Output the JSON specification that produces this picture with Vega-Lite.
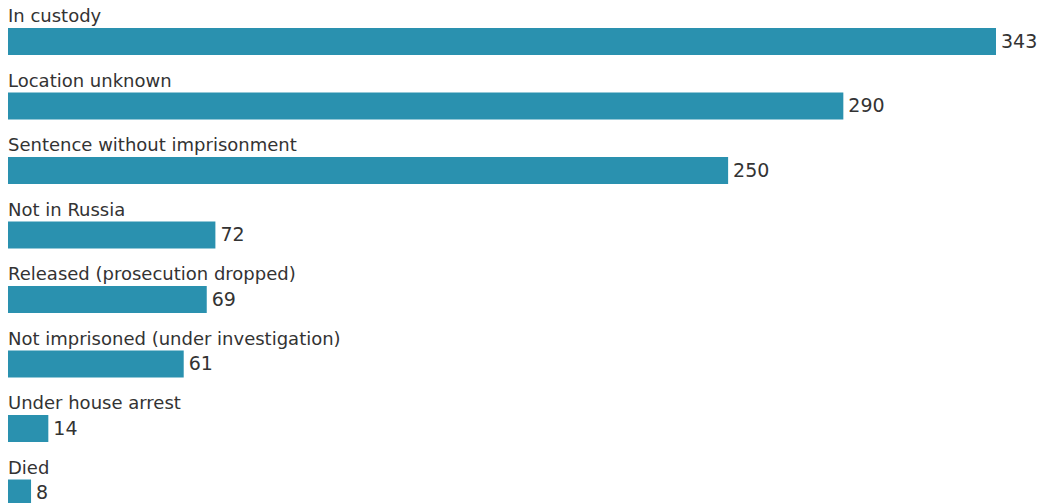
{
  "$schema": "https://vega.github.io/schema/vega-lite/v6.json",
  "width": 1038,
  "height": 503,
  "autosize": {"type": "none"},
  "padding": 0,
  "background": "white",
  "config": {"view": {"stroke": null}, "font": "DejaVu Sans"},
  "data": {"values": [
    {"status": "In custody", "count": 343},
    {"status": "Location unknown", "count": 290},
    {"status": "Sentence without imprisonment", "count": 250},
    {"status": "Not in Russia", "count": 72},
    {"status": "Released (prosecution dropped)", "count": 69},
    {"status": "Not imprisoned (under investigation)", "count": 61},
    {"status": "Under house arrest", "count": 14},
    {"status": "Died", "count": 8}
  ]},
  "encoding": {
    "y": {"field": "status", "type": "nominal", "sort": null, "axis": null,
          "scale": {"range": [9.25, 525.25], "paddingInner": 0, "paddingOuter": 0}},
    "x": {"field": "count", "type": "quantitative", "axis": null,
          "scale": {"domain": [0, 343], "range": [8, 996], "nice": false}}
  },
  "layer": [
    {"mark": {"type": "bar", "height": 27, "color": "#2a91af"}},
    {"mark": {"type": "text", "align": "left", "baseline": "middle", "dx": 5, "fontSize": 19, "color": "#333333"},
     "encoding": {"text": {"field": "count", "type": "quantitative"}}},
    {"mark": {"type": "text", "align": "left", "baseline": "alphabetic", "dy": -19.5, "fontSize": 18, "color": "#333333"},
     "encoding": {"x": {"datum": 0}, "text": {"field": "status"}}}
  ]
}
